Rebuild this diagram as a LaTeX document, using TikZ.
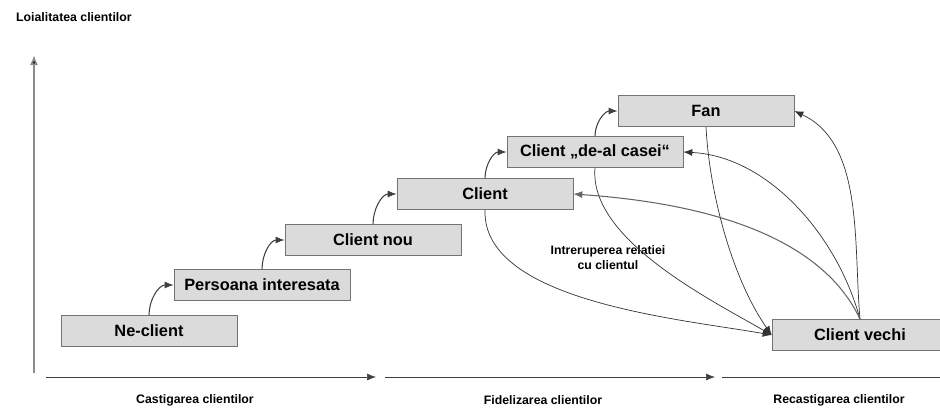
\documentclass[tikz,border=0pt]{standalone}
\usepackage{fontspec}
\setmainfont{Liberation Sans}
\usetikzlibrary{positioning}
\usetikzlibrary{arrows.meta}

\begin{document}
\begin{tikzpicture}[x=0.02cm, y=0.02cm,
            >={Latex[length=1.8mm,width=1.4mm]},
            font=\bfseries,
            box/.style = {draw=black!55,fill=black!14,
                minimum width=3.52cm,minimum height=0.62cm,
                inner sep=0pt,font=\fontsize{9.3}{11}\selectfont\bfseries},
            axis/.style = {draw=black!45,line width=0.9pt},
            small/.style = {font=\fontsize{7}{8.5}\selectfont\bfseries,align=center},
            upstep/.style = {->,black!75,semithick,out=90,in=180},
            back/.style = {->,black!80,thin}]
            \useasboundingbox (0,0) rectangle (940,407);
            % levels
            \node[box](nec) at (149,76) {Ne-client};
            \node[box](pers) at (262,122) {Persoana interesata};
            \node[box](nou) at (373,167) {Client nou};
            \node[box](cli) at (485,213) {Client};
            \node[box](casei) at (595,255) {Client \char"201E de-al casei\char"201C};
            \node[box](fan) at (706,296) {Fan};
            \node[box](vechi) at (860,72) {Client vechi};
            % axes
            \coordinate (ybot) at (34,34);
            \coordinate (ytop) at (34,352);
            \draw[axis,-{Latex[length=2mm,width=1.6mm,fill=black]}] (ybot) -- (ytop);
            \node[small,anchor=west](title) at (10,390) {Loialitatea clientilor};
            \coordinate (a0) at (46,30);
            \coordinate (a1) at (376,30);
            \coordinate (b0) at (385,30);
            \coordinate (b1) at (715,30);
            \coordinate (c0) at (722,30);
            \coordinate (c1) at (950,30);
            \draw[->,black!75,thin] (a0) -- (a1);
            \draw[->,black!75,thin] (b0) -- (b1);
            \draw[->,black!75,thin] (c0) -- (c1);
            \node[small](castig) at (195,7) {Castigarea clientilor};
            \node[small](fidel) at (543,7) {Fidelizarea clientilor};
            \node[small](recast) at (839,7) {Recastigarea clientilor};
            \node[small](intrer) at (608,149) {Intreruperea relatiei\\cu clientul};
            % steps up
            \path[]
                (nec.north) edge[upstep] (pers.west)
                (pers.north) edge[upstep] (nou.west)
                (nou.north) edge[upstep] (cli.west)
                (cli.north) edge[upstep] (casei.west)
                (casei.north) edge[upstep] (fan.west);
            % lost clients
            \path[]
                (cli.south) edge[back,out=-92,in=170,looseness=0.75] (vechi.west)
                (casei.south) edge[back,out=-95,in=150,looseness=0.75] (vechi.west)
                (fan.south) edge[back,out=-87,in=125,looseness=0.8] (vechi.west);
            % won back
            \path[]
                (vechi.north) edge[back,out=95,in=-25,looseness=0.9] (fan.east)
                (vechi.north) edge[back,out=105,in=-3,looseness=0.9] (casei.east)
                (vechi.north) edge[back,semithick,black!60,out=115,in=-4,looseness=0.85] (cli.east);
        \end{tikzpicture}
\end{document}
